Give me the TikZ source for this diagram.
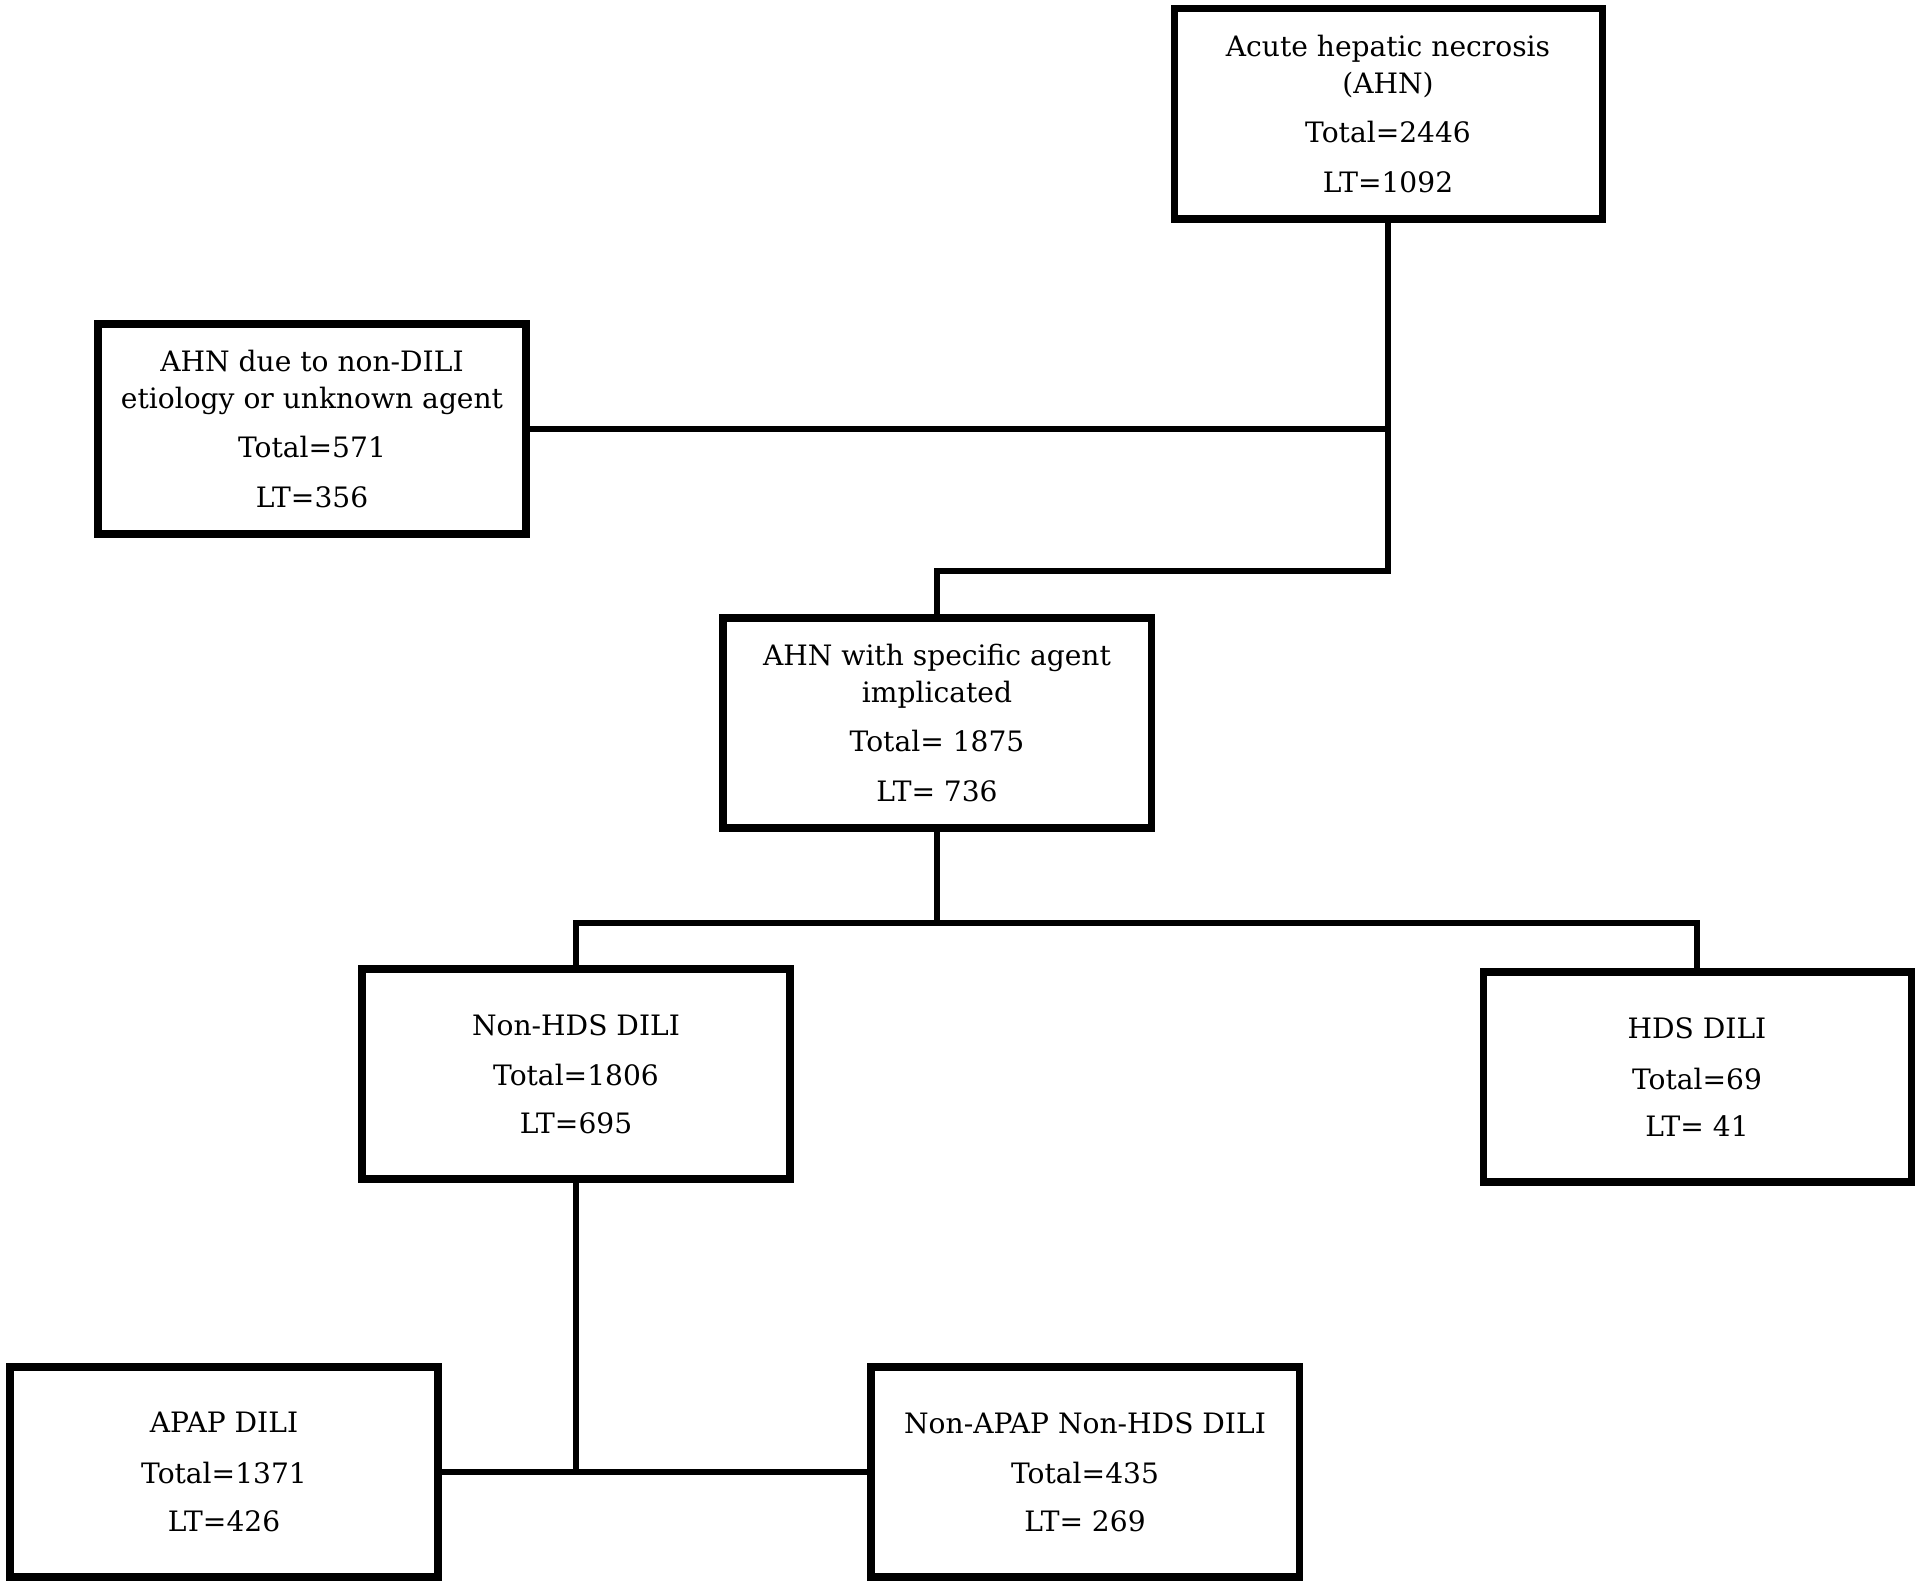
\documentclass[tikz,border=0pt]{standalone}
\usepackage{fontspec}
\setmainfont{DejaVu Serif}
\usepackage{tikz}
\usetikzlibrary{positioning, calc}

\tikzset{
  box/.style={draw, line width=2pt, minimum width=4.28cm, minimum height=2.1cm,
    align=center, inner sep=0pt, font=\fontsize{8}{10.5}\selectfont},
  link/.style={line width=1.9pt}
}

\begin{document}
\begin{tikzpicture}

\useasboundingbox (0,0) rectangle (19.2,-15.89);

% Top level
\node[box] (ahn) at (13.88,-1.14) {Acute hepatic necrosis\\(AHN)\\[3.5pt]Total=2446\\[3.5pt]LT=1092};

% Excluded cases
\node[box] (other) at (3.12,-4.29) {AHN due to non-DILI\\etiology or unknown agent\\[3.5pt]Total=571\\[3.5pt]LT=356};

% Specific agent
\node[box] (agent) at (9.37,-7.23) {AHN with specific agent\\implicated\\[3.5pt]Total= 1875\\[3.5pt]LT= 736};

% DILI split
\node[box] (nonhds) at (5.76,-10.74) {Non-HDS DILI\\[4pt]Total=1806\\[3pt]LT=695};
\node[box] (hds) at (16.97,-10.77) {HDS DILI\\[4pt]Total=69\\[3pt]LT= 41};

% Non-HDS split
\node[box] (apap) at (2.24,-14.72) {APAP DILI\\[4pt]Total=1371\\[3pt]LT=426};
\node[box] (nonapap) at (10.85,-14.72) {Non-APAP Non-HDS DILI\\[4pt]Total=435\\[3pt]LT= 269};

% Connectors
\coordinate (j1) at (13.88,-5.71);
\coordinate (j2) at (9.37,-9.23);
\draw[link] (ahn.south) -- (j1) -| (agent.north);
\draw[link] (other.east) -- (other.east -| ahn.south);
\draw[link] (agent.south) -- (j2);
\draw[link] (nonhds.north) |- (j2) -| (hds.north);
\draw[link] (nonhds.south) -- (nonhds.south |- apap.east);
\draw[link] (apap.east) -- (nonapap.west);

\end{tikzpicture}
\end{document}
